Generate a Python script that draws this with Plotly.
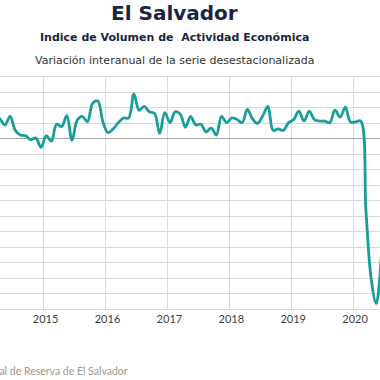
import plotly.graph_objects as go

# Monthly categories (Mar 2014 .. Jun 2020)
months = []
for yr in range(2014, 2021):
    for mo in range(1, 13):
        if (yr == 2014 and mo < 3) or (yr == 2020 and mo > 6):
            continue
        months.append(f"{yr}-{mo:02d}")

# Year-on-year variation (%) of seasonally adjusted IVAE
values = [3.1, 2.6, 1.8, 2.9, 1.1, 0.5, 0.4, -0.1, 0.1, -1.1,
          0.4, -0.3, 1.9, 1.6, 3.0, -0.2, 2.4, 2.9, 2.2, 4.6, 4.9, 2.2,
          0.8, 1.3, 2.1, 2.7, 2.7, 5.8, 3.7, 4.2, 3.5, 3.3, 0.7, 3.4,
          2.1, 3.5, 3.2, 1.5, 2.9, 1.8, 1.9, 0.9, 1.4, 0.5, 2.9, 2.1,
          2.7, 2.5, 2.1, 3.8, 2.6, 2.0, 3.0, 4.2, 1.1, 1.3, 1.1, 2.1,
          2.5, 3.6, 2.3, 3.6, 2.5, 2.3, 2.3, 2.1, 3.7, 2.8, 4.1, 2.2,
          2.2, 2.3, -9.2, -18.0, -21.3, -15.0]

year_labels = ["2015", "2016", "2017", "2018", "2019", "2020"]

# month index relative to January 2015
base = months.index("2015-01")
xpos = [i - base for i in range(len(months))]
year_bounds = [months.index(y + "-01") - base - 0.5 for y in year_labels]

fig = go.Figure()
fig.add_trace(go.Scatter(
    x=xpos, y=values, mode="lines",
    line=dict(color="#179e9a", width=2.8, shape="spline", smoothing=1.0),
    hoverinfo="skip", showlegend=False,
))

font = "Lato, 'Open Sans', sans-serif"
tfont = "'DejaVu Sans', sans-serif"
fig.update_layout(
    width=380, height=380,
    margin=dict(l=0, r=0, t=77, b=71),
    paper_bgcolor="white", plot_bgcolor="white",
    font=dict(family=font, color="#404040"),
    xaxis=dict(
        range=[-8.96, 64.73],
        tickmode="array", tickvals=year_bounds, ticktext=year_labels,
        ticklabelshift=2,
        showgrid=True, gridcolor="#d9d9d9", gridwidth=1,
        showline=True, mirror=True, linecolor="#d9d9d9", linewidth=1,
        zeroline=False, ticks="", tickfont=dict(size=11, color="#404040"),
    ),
    yaxis=dict(
        range=[-22, 8], dtick=2, tick0=0,
        showgrid=True, gridcolor="#d9d9d9", gridwidth=1,
        zeroline=True, zerolinecolor="#a6a6a6", zerolinewidth=1.3,
        showticklabels=False, ticks="", showline=False,
    ),
    annotations=[
        dict(text="<b>El Salvador</b>", x=174/380, y=(309-13)/232,
             xref="paper", yref="paper", xanchor="center", yanchor="middle",
             showarrow=False, font=dict(size=20, color="#1b2440", family=tfont)),
        dict(text="<b>Indice de Volumen de  Actividad Económica</b>", x=174/380, y=(309-37.5)/232,
             xref="paper", yref="paper", xanchor="center", yanchor="middle",
             showarrow=False, font=dict(size=11, color="#1b2440", family=tfont)),
        dict(text="Variación interanual de la serie desestacionalizada", x=174/380, y=(309-60)/232,
             xref="paper", yref="paper", xanchor="center", yanchor="middle",
             showarrow=False, font=dict(size=11, color="#333333", family=tfont)),
        dict(text="Fuente: Banco Central de Reserva de El Salvador", x=130/380, y=(309-371)/232,
             xref="paper", yref="paper", xanchor="right", yanchor="middle",
             showarrow=False, font=dict(size=10.5, color="#a39689", family=font)),
    ],
)

fig.write_html("out.html", config={"displayModeBar": False},
               post_script="document.body.style.margin='0px';")
